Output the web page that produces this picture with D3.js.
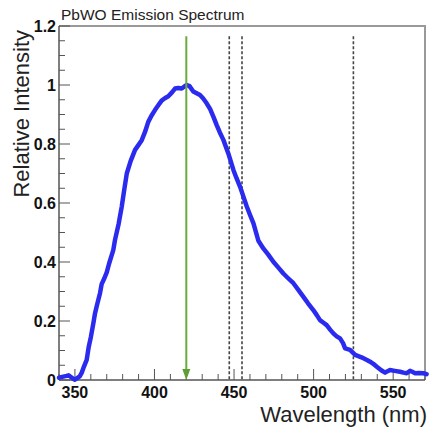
<!DOCTYPE html>
<html>
<head>
<meta charset="utf-8">
<script src="https://cdn.jsdelivr.net/npm/d3@7"></script>
<style>
  body { margin: 0; background: #fff; }
  svg { display: block; }
  text { font-family: "Liberation Sans", Arial, sans-serif; }
</style>
</head>
<body>
<svg id="chart" width="429" height="429"></svg>
<script>
// emission spectrum
const wavelength = [340, 344.8, 346, 349, 350, 353, 354.3, 355.3, 357.4, 358.6, 360, 361.6, 362.6, 363.7,
  365.8, 366.8, 368.5, 370, 371.5, 374.1, 375.2, 377.5, 379.4, 381, 382.6, 385, 387.8, 390, 392, 394,
  396.1, 398, 400.3, 402.5, 404.5, 406.5, 408.7, 411, 412.9, 415, 417.1, 418.8, 420.3, 422, 424.4, 426.5,
  428.6, 430.5, 432.8, 435, 437, 439.1, 441, 443.3, 446.4, 449.6, 451.5, 453.8, 456, 458, 460, 462.2,
  465.3, 468.4, 471.5, 474.7, 478, 481, 484, 487.3, 490.5, 493.6, 496.5, 499.8, 502, 504, 506, 508.2,
  510.5, 512.4, 514.5, 516.6, 518.5, 519.8, 522.9, 526.1, 528.5, 531.3, 533.5, 535.5, 537.5, 539.7,
  542.5, 544.9, 546.5, 548, 551, 554.3, 556.5, 558.5, 560.6, 562, 563.8, 566, 569, 571];
const intensity = [0.008, 0.014, 0.016, 0.004, 0.001, 0.012, 0.025, 0.04, 0.068, 0.11, 0.145, 0.193, 0.225, 0.25,
  0.295, 0.325, 0.345, 0.365, 0.395, 0.44, 0.475, 0.53, 0.587, 0.645, 0.7, 0.742, 0.78, 0.797, 0.813, 0.84,
  0.875, 0.895, 0.915, 0.932, 0.947, 0.955, 0.962, 0.975, 0.988, 0.99, 0.988, 0.995, 1.0, 0.996, 0.978, 0.972,
  0.966, 0.955, 0.938, 0.918, 0.893, 0.864, 0.84, 0.814, 0.768, 0.712, 0.685, 0.655, 0.62, 0.588, 0.56, 0.531,
  0.472, 0.446, 0.425, 0.401, 0.38, 0.361, 0.345, 0.328, 0.305, 0.282, 0.26, 0.237, 0.22, 0.203, 0.195, 0.186,
  0.17, 0.158, 0.148, 0.141, 0.125, 0.107, 0.102, 0.085, 0.08, 0.074, 0.068, 0.062, 0.055, 0.045,
  0.033, 0.025, 0.03, 0.034, 0.031, 0.028, 0.025, 0.023, 0.031, 0.028, 0.023, 0.024, 0.023, 0.02];

// marker lines
const peakLine = 420;
const dashedLines = [447, 455, 525];
const markerTop = 1.165;

// axis ticks
const xTicks = [350, 400, 450, 500, 550];
const yTicks = [0, 0.2, 0.4, 0.6, 0.8, 1, 1.2];
const yTickLabels = ["0", "0.2", "0.4", "0.6", "0.8", "1", "1.2"];

const svg = d3.select("#chart");

// plot frame
const frameL = 59, frameR = 425, frameT = 26, frameB = 380;

const x = d3.scaleLinear().domain([340, 570]).range([frameL, frameR]);
const y = d3.scaleLinear().domain([0, 1.2]).range([frameB, frameT]);

// top and right frame lines
svg.append("path")
    .attr("d", `M${frameL},${frameT}H${frameR}V${frameB}`)
    .attr("fill", "none")
    .attr("stroke", "#999")
    .attr("stroke-width", 2);

// minor ticks
const xMinor = d3.range(340, 571, 10);
const yMinor = d3.range(0, 1.2001, 0.05);

svg.append("g").selectAll("line").data(xMinor).join("line")
    .attr("x1", d => x(d)).attr("x2", d => x(d))
    .attr("y1", frameB).attr("y2", d => xTicks.includes(d) ? frameB - 11 : frameB - 6)
    .attr("stroke", "#555").attr("stroke-width", 1);

svg.append("g").selectAll("line").data(yMinor).join("line")
    .attr("y1", d => y(d)).attr("y2", d => y(d))
    .attr("x1", frameL).attr("x2", (d, i) => i % 4 === 0 ? frameL + 11 : frameL + 6)
    .attr("stroke", "#555").attr("stroke-width", 1);

// axis lines
svg.append("line")
    .attr("x1", frameL).attr("x2", frameR).attr("y1", frameB).attr("y2", frameB)
    .attr("stroke", "#555").attr("stroke-width", 1.5);
svg.append("line")
    .attr("x1", frameL).attr("x2", frameL).attr("y1", frameT).attr("y2", frameB)
    .attr("stroke", "#555").attr("stroke-width", 1.5);

// tick labels
svg.append("g").selectAll("text").data(xTicks).join("text")
    .attr("x", d => x(d)).attr("y", frameB + 18)
    .attr("text-anchor", "middle")
    .attr("font-size", 16).attr("font-weight", "bold").attr("fill", "#111")
    .text(d => d);

svg.append("g").selectAll("text").data(yTicks).join("text")
    .attr("x", frameL - 3).attr("y", d => y(d) + 6)
    .attr("text-anchor", "end")
    .attr("font-size", 16).attr("font-weight", "bold").attr("fill", "#111")
    .text((d, i) => yTickLabels[i]);

// axis titles
svg.append("text")
    .attr("x", 427).attr("y", 422)
    .attr("text-anchor", "end")
    .attr("font-size", 22).attr("fill", "#222")
    .text("Wavelength (nm)");

svg.append("text")
    .attr("transform", "translate(29,30) rotate(-90)")
    .attr("text-anchor", "end")
    .attr("font-size", 22).attr("fill", "#222")
    .text("Relative Intensity");

// title
svg.append("text")
    .attr("x", 61).attr("y", 20)
    .attr("font-size", 15.5).attr("fill", "#222")
    .text("PbWO Emission Spectrum");

// dashed reference lines
svg.append("g").selectAll("line").data(dashedLines).join("line")
    .attr("x1", d => x(d)).attr("x2", d => x(d))
    .attr("y1", y(markerTop)).attr("y2", frameB)
    .attr("stroke", "#444").attr("stroke-width", 1.6)
    .attr("stroke-dasharray", "3,2");

// spectrum curve
const pts = wavelength.map((w, i) => [w, intensity[i]]);
svg.append("path")
    .datum(pts)
    .attr("fill", "none")
    .attr("stroke", "#2b2bf0")
    .attr("stroke-width", 4.5)
    .attr("stroke-linejoin", "round")
    .attr("stroke-linecap", "round")
    .attr("d", d3.line().x(d => x(d[0])).y(d => y(d[1])));

// peak arrow
const ax = x(peakLine);
svg.append("line")
    .attr("x1", ax).attr("x2", ax)
    .attr("y1", y(markerTop)).attr("y2", frameB - 8)
    .attr("stroke", "#6aab3c").attr("stroke-width", 2);
svg.append("path")
    .attr("d", `M${ax - 4},${frameB - 11}L${ax + 4},${frameB - 11}L${ax},${frameB}Z`)
    .attr("fill", "#5f9e35");
</script>
</body>
</html>
